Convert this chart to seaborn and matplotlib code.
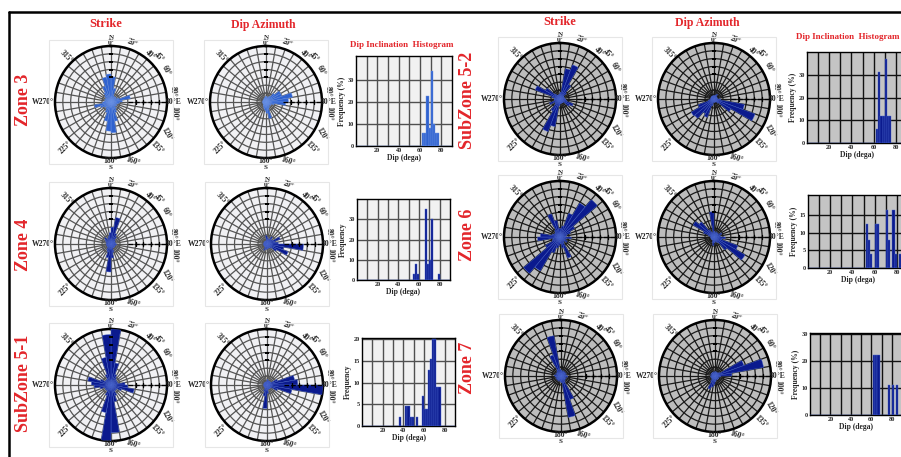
import numpy as np
import matplotlib
matplotlib.use("Agg")
import matplotlib.pyplot as plt
from matplotlib.lines import Line2D
from matplotlib.patches import Rectangle
import seaborn as sns

sns.set_style("white")
plt.rcParams['font.family'] = ['Liberation Serif', 'DejaVu Serif']
plt.rcParams['font.weight'] = 'bold'

W, H = 901, 457

zones = ["Zone 3", "Zone 4", "SubZone 5-1", "SubZone 5-2", "Zone 6", "Zone 7"]

# rose petal lengths (fraction of outer ring), one per 10 deg sector from N clockwise
zone3_strike = [0.45, 0.25, 0.12, 0.10, 0.12, 0.10, 0.15, 0.35, 0.20, 0.15, 0.12, 0.10,
                0.12, 0.10, 0.15, 0.20, 0.35, 0.55, 0.52, 0.35, 0.20, 0.15, 0.12, 0.15,
                0.20, 0.30, 0.15, 0.12, 0.10, 0.12, 0.10, 0.15, 0.20, 0.30, 0.45, 0.50]
zone3_dipaz = [0.10, 0.08, 0.10, 0.12, 0.20, 0.30, 0.30, 0.48, 0.40, 0.35, 0.15, 0.10,
               0.10, 0.08, 0.10, 0.12, 0.30, 0.20, 0.15, 0.12, 0.10, 0.08, 0.06, 0.06,
               0.06, 0.06, 0.06, 0.06, 0.06, 0.06, 0.06, 0.06, 0.06, 0.08, 0.08, 0.10]
zone4_strike = [0.30, 0.48, 0.20, 0.15, 0.10, 0.08, 0.08, 0.08, 0.08, 0.10, 0.08, 0.08,
                0.08, 0.08, 0.08, 0.08, 0.15, 0.25, 0.50, 0.25, 0.15, 0.12, 0.08, 0.08,
                0.08, 0.08, 0.08, 0.08, 0.08, 0.10, 0.12, 0.15, 0.10, 0.12, 0.15, 0.20]
zone4_dipaz = [0.12, 0.08, 0.10, 0.15, 0.10, 0.12, 0.25, 0.15, 0.20, 0.65, 0.30, 0.40,
               0.20, 0.10, 0.08, 0.08, 0.08, 0.08, 0.10, 0.08, 0.12, 0.06, 0.06, 0.06,
               0.06, 0.06, 0.06, 0.06, 0.06, 0.06, 0.06, 0.06, 0.06, 0.06, 0.06, 0.15]
sub51_strike = [1.00, 0.40, 0.20, 0.15, 0.12, 0.12, 0.12, 0.12, 0.25, 0.30, 0.42, 0.20,
                0.12, 0.12, 0.12, 0.20, 0.30, 0.85, 1.00, 0.50, 0.20, 0.12, 0.12, 0.12,
                0.12, 0.20, 0.30, 0.35, 0.42, 0.20, 0.12, 0.12, 0.12, 0.20, 0.50, 0.90]
sub51_dipaz = [0.10, 0.08, 0.08, 0.08, 0.08, 0.08, 0.20, 0.50, 0.55, 1.00, 0.45, 0.20,
               0.08, 0.08, 0.08, 0.08, 0.08, 0.15, 0.42, 0.20, 0.12, 0.06, 0.06, 0.06,
               0.06, 0.06, 0.06, 0.06, 0.06, 0.06, 0.06, 0.06, 0.06, 0.06, 0.06, 0.06]
sub52_strike = [0.12, 0.55, 0.65, 0.30, 0.15, 0.08, 0.08, 0.08, 0.08, 0.10, 0.12, 0.25,
                0.20, 0.08, 0.08, 0.08, 0.08, 0.08, 0.12, 0.50, 0.62, 0.25, 0.12, 0.10,
                0.20, 0.10, 0.10, 0.10, 0.15, 0.47, 0.30, 0.12, 0.08, 0.08, 0.08, 0.08]
sub52_dipaz = [0.06, 0.06, 0.08, 0.10, 0.06, 0.06, 0.06, 0.06, 0.06, 0.12, 0.55, 0.78,
               0.35, 0.10, 0.06, 0.06, 0.06, 0.06, 0.06, 0.12, 0.35, 0.30, 0.45, 0.47,
               0.30, 0.10, 0.06, 0.06, 0.06, 0.06, 0.06, 0.06, 0.06, 0.06, 0.06, 0.06]
zone6_strike = [0.15, 0.20, 0.45, 0.70, 0.87, 0.30, 0.20, 0.12, 0.10, 0.20, 0.12, 0.10,
                0.15, 0.10, 0.12, 0.40, 0.20, 0.12, 0.15, 0.20, 0.30, 0.70, 0.85, 0.30,
                0.15, 0.12, 0.40, 0.35, 0.15, 0.12, 0.10, 0.12, 0.15, 0.44, 0.30, 0.15]
zone6_dipaz = [0.10, 0.08, 0.10, 0.08, 0.10, 0.08, 0.15, 0.10, 0.12, 0.20, 0.15, 0.45,
               0.64, 0.30, 0.12, 0.10, 0.08, 0.10, 0.15, 0.10, 0.06, 0.06, 0.06, 0.06,
               0.06, 0.06, 0.06, 0.06, 0.10, 0.20, 0.43, 0.35, 0.15, 0.10, 0.08, 0.45]
zone7_strike = [0.10, 0.08, 0.10, 0.08, 0.10, 0.08, 0.10, 0.08, 0.10, 0.12, 0.08, 0.10,
                0.08, 0.10, 0.12, 0.45, 0.75, 0.12, 0.10, 0.08, 0.10, 0.08, 0.10, 0.08,
                0.10, 0.08, 0.10, 0.12, 0.08, 0.10, 0.08, 0.10, 0.12, 0.40, 0.73, 0.12]
zone7_dipaz = [0.08, 0.06, 0.08, 0.06, 0.08, 0.10, 0.55, 0.88, 0.30, 0.10, 0.08, 0.06,
               0.08, 0.06, 0.08, 0.06, 0.08, 0.10, 0.15, 0.20, 0.25, 0.12, 0.08, 0.06,
               0.08, 0.06, 0.08, 0.06, 0.08, 0.06, 0.08, 0.06, 0.08, 0.06, 0.08, 0.06]

# dip inclination histograms: bin centres (deg) and frequency
zone3_dip = [63, 65, 67, 69, 71, 73, 75, 77]
zone3_freq = [6, 6, 23, 8, 34, 10, 6, 6]
zone4_dip = [55, 57, 59, 67, 69, 71, 73, 79]
zone4_freq = [3, 8, 3, 35, 8, 10, 30, 3]
sub51_dip = [37, 43, 45, 47, 49, 53, 59, 61, 63, 65, 67, 69, 71, 73, 75]
sub51_freq = [2, 4.5, 4.5, 2, 2, 2, 7, 4, 4, 13, 15.5, 20, 20, 9, 9]
sub52_dip = [63, 65, 67, 69, 71, 73, 75]
sub52_freq = [6, 31, 12, 12, 37, 12, 12]
zone6_dip = [53, 55, 57, 61, 63, 71, 73, 77, 79, 83]
zone6_freq = [12.5, 8, 4, 12.5, 12.5, 16.5, 8, 16.5, 4, 4]
zone7_dip = [63, 65, 67, 77, 81, 85]
zone7_freq = [22.5, 22.5, 22.5, 11, 11, 11]

strikes = [zone3_strike, zone4_strike, sub51_strike, sub52_strike, zone6_strike, zone7_strike]
dipazs = [zone3_dipaz, zone4_dipaz, sub51_dipaz, sub52_dipaz, zone6_dipaz, zone7_dipaz]
dips = [zone3_dip, zone4_dip, sub51_dip, sub52_dip, zone6_dip, zone7_dip]
freqs = [zone3_freq, zone4_freq, sub51_freq, sub52_freq, zone6_freq, zone7_freq]
ylabels = ["Frequency (%)", "Frequency", "Frequency", "Frequency (%)", "Frequency (%)", "Frequency (%)"]
yticks = [[0, 10, 20, 30], [0, 10, 20, 30], [0, 5, 10, 15, 20],
          [0, 10, 20, 30], [0, 5, 10, 15], [0, 10, 20, 30]]
ytops = [41, 40, 20.3, 40, 20.6, 30.5]

# layout in pixels
strike_cx = [111, 111, 111, 560, 560, 561]
dipaz_cx = [266, 267, 267, 714, 714, 715]
rose_cy = [102, 244, 385, 99, 237, 376]
R = 56
hist_box = [(356, 56, 452, 146), (357, 199, 450, 280), (362, 338, 455, 426),
            (807, 52, 907, 143), (808, 195, 908, 268), (810, 333, 902, 415)]
label_pos = [(24, 100), (24, 245), (24, 383), (468, 100), (468, 235), (468, 368)]

RED = '#e3262b'
rings = [0.07, 0.16, 0.30, 0.44, 0.58, 0.72, 0.86]
compass_ticks = [(20, '20°', -20, 1.12), (40, '40°', -42, 1.10), (47, '45°', -45, 1.18),
                 (60, '60°', -60, 1.13), (80, '80°', -88, 1.13), (100, '100°', -92, 1.15),
                 (120, '120°', -60, 1.15), (135, '135°', -45, 1.16), (160, '160°', -18, 1.12),
                 (225, '225°', 45, 1.14), (315, '315°', -45, 1.14)]


def px_rect(x0, y0, x1, y1):
    return [x0 / W, 1 - y1 / H, (x1 - x0) / W, (y1 - y0) / H]


def rose(fig, cx, cy, values, dark, petal, edge):
    fig.add_artist(Rectangle(((cx - R - 6) / W, 1 - (cy + R + 6) / H), (2 * R + 12) / W,
                             (2 * R + 12) / H, transform=fig.transFigure,
                             fill=False, edgecolor='#e6e6e6', lw=0.8))
    ax = fig.add_axes(px_rect(cx - R, cy - R, cx + R, cy + R), projection='polar')
    ax.set_theta_zero_location('N')
    ax.set_theta_direction(-1)
    ax.set_facecolor('#bdbdbd' if dark else '#f1f1f4')
    gc = '#1a1a1a' if dark else '#555555'
    ax.set_xticks(np.deg2rad(np.arange(0, 360, 10)))
    ax.set_xticklabels([])
    ax.set_yticks(rings)
    ax.set_yticklabels([])
    ax.grid(True, color=gc, lw=0.9)
    ax.spines['polar'].set_linewidth(1.8)
    ax.spines['polar'].set_color('black')
    theta = np.deg2rad(np.arange(5, 360, 10))
    ax.bar(theta, values, width=np.deg2rad(10), bottom=0, color=petal,
           edgecolor=edge, lw=0.3, zorder=3)
    ax.plot([np.pi / 2, np.pi / 2], [0.3, 1.0], ls='--', color='k', lw=0.9, zorder=4)
    ax.plot([np.pi / 2] * 4, [0.44, 0.58, 0.72, 0.86], ls='none', marker='|',
            ms=3, color='k', mew=1, zorder=4)
    ax.plot([0] * 4, [0.44, 0.58, 0.72, 0.86], ls='none', marker='_',
            ms=3, color='k', mew=1.2, zorder=4)
    ax.set_ylim(0, 1)
    fs = 5.5
    ax.text(0, 1.16, 'N', fontsize=5, ha='center', va='center')
    ax.text(0, 1.05, '0°', fontsize=fs, ha='center', va='center')
    ax.text(np.pi, 1.06, '180°', fontsize=fs, ha='center', va='center')
    ax.text(np.pi, 1.17, 'S', fontsize=5, ha='center', va='center')
    ax.text(1.5 * np.pi, 1.02, 'W270°', fontsize=fs, ha='right', va='center')
    ax.text(np.pi / 2, 0.97, '90°E', fontsize=fs, ha='left', va='center')
    for deg, lab, rot, rr in compass_ticks:
        ax.text(np.deg2rad(deg), rr, lab, fontsize=fs, rotation=rot,
                ha='center', va='center', rotation_mode='anchor')
    return ax


def hist(fig, box, x, w, dark, color, edge, ylab, yt, ytop):
    ax = fig.add_axes(px_rect(*box))
    sns.histplot(x=x, weights=w, binwidth=2, binrange=(0, 90), color=color,
                 edgecolor=edge, linewidth=0.3, alpha=1, ax=ax, zorder=3)
    ax.set_xlim(0, 90)
    ax.set_ylim(0, ytop)
    ax.set_xticks(range(10, 90, 10))
    ax.set_xticklabels(['', '20', '', '40', '', '60', '', '80'])
    ax.set_yticks(yt)
    ax.set_facecolor('#c4c4c4' if dark else '#f1f1f1')
    ax.grid(True, color='#111111' if dark else '#505050', lw=1.0)
    ax.set_axisbelow(True)
    for s in ax.spines.values():
        s.set_color('black')
        s.set_linewidth(1.0)
    ax.tick_params(length=0, labelsize=4.5, pad=1.5)
    ax.set_xlabel('Dip (dega)', fontsize=5.5, fontweight='bold', labelpad=1)
    ax.set_ylabel(ylab, fontsize=5.5, fontweight='bold', labelpad=1)
    return ax


fig = plt.figure(figsize=(W / 100, H / 100), dpi=100)

for i in range(6):
    dark = i >= 3
    if i == 0:
        petal, edge = '#2f62cf', '#6f95e6'
    else:
        petal, edge = '#0b1a8e', '#4d6ad0'
    rose(fig, strike_cx[i], rose_cy[i], strikes[i], dark, petal, edge)
    rose(fig, dipaz_cx[i], rose_cy[i], dipazs[i], dark, petal, edge)
    hist(fig, hist_box[i], dips[i], freqs[i], dark, petal, edge,
         ylabels[i], yticks[i], ytops[i])
    lx, ly = label_pos[i]
    fig.text(lx / W, 1 - ly / H, zones[i], color=RED, fontsize=13,
             fontweight='bold', rotation=90, ha='center', va='center')

for sx, dx, hx, ty, hy in [(106, 263, 402, 24, 45), (560, 707, 848, 22, 37)]:
    fig.text(sx / W, 1 - ty / H, 'Strike', color=RED, fontsize=9, fontweight='bold',
             ha='center', va='center')
    fig.text(dx / W, 1 - (ty + 1) / H, 'Dip Azimuth', color=RED, fontsize=8.5,
             fontweight='bold', ha='center', va='center')
    fig.text(hx / W, 1 - hy / H, 'Dip Inclination  Histogram', color=RED, fontsize=6.5,
             fontweight='bold', ha='center', va='center')

fig.add_artist(Line2D([9 / W, 9 / W], [0, 1 - 12 / H], color='k', lw=1.8,
                      transform=fig.transFigure))
fig.add_artist(Line2D([9 / W, 1], [1 - 12 / H, 1 - 12 / H], color='k', lw=1.8,
                      transform=fig.transFigure))

fig.savefig('out.png', dpi=100)
